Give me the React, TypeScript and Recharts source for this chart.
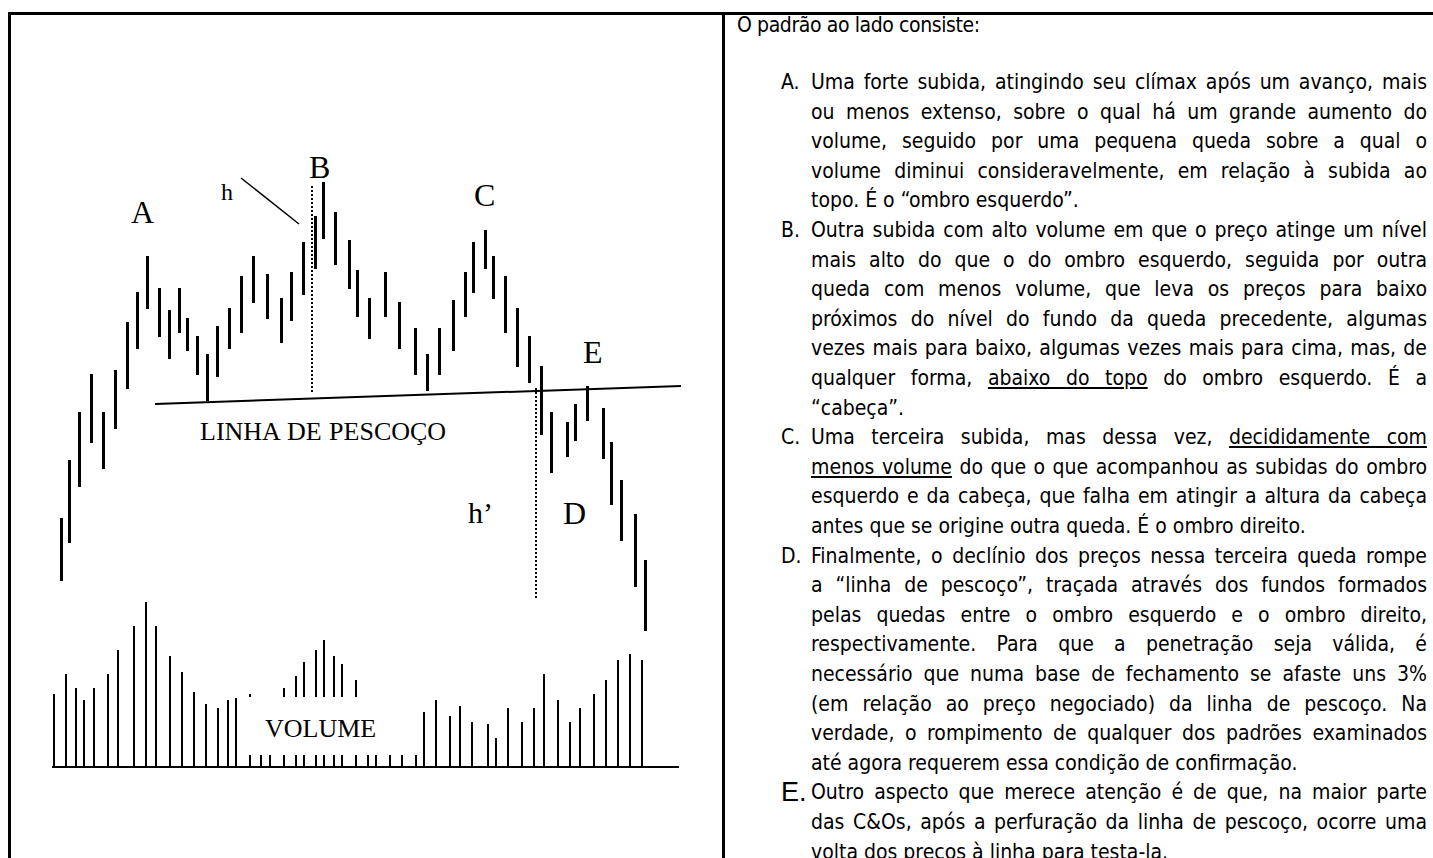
import React from "react"
import { Bar, ComposedChart, ReferenceLine, XAxis, YAxis } from "recharts"

// posição de cada pregão no eixo do tempo e máxima/mínima das barras de preço
const priceDays = [
    2.2, 3.0, 4.0, 5.2, 6.4, 7.6, 8.8, 9.8, 10.8, 12.0, 13.0, 14.0, 14.8,
    15.8, 16.8, 17.8, 19.0, 20.2, 21.4, 22.8, 24.2, 25.2, 26.4, 27.6, 28.4,
    29.6, 31.0, 31.8, 33.0, 34.6, 36.0, 37.6, 38.8, 40.0, 41.4, 42.6, 43.4,
    44.6, 45.4, 46.6, 47.8, 49.0, 50.2, 51.2, 52.8, 53.6, 54.8, 56.4, 57.2,
    58.2, 59.6, 60.6,
]
const priceHigh = [
    24.9, 30.7, 35.5, 39.3, 35.5, 39.7, 44.5, 47.5, 51.1, 47.9, 45.7, 47.9,
    44.9, 43.1, 41.3, 44.1, 45.9, 49.1, 51.1, 49.3, 46.9, 49.5, 52.5, 55.1,
    58.5, 55.5, 52.7, 49.7, 46.9, 49.5, 46.5, 43.9, 41.3, 43.9, 46.7, 49.5,
    52.5, 53.7, 51.1, 49.1, 45.9, 43.1, 40.1, 35.5, 34.5, 36.3, 38.1, 35.9,
    32.5, 28.7, 25.3, 20.7,
]
const priceLow = [
    18.6, 22.4, 28.0, 32.4, 29.8, 33.8, 37.8, 41.8, 45.8, 43.0, 40.8, 43.4,
    41.6, 39.2, 36.6, 39.0, 41.8, 43.4, 46.4, 44.8, 42.4, 44.6, 47.2, 49.8,
    52.8, 50.2, 47.8, 45.0, 42.8, 45.0, 41.8, 39.2, 37.6, 39.2, 41.6, 45.0,
    47.4, 49.8, 46.8, 43.4, 40.0, 38.4, 33.2, 29.4, 31.0, 32.6, 34.6, 30.8,
    26.2, 22.6, 18.0, 13.6,
]

// volume negociado em cada pregão
const volumeDays = [
    1.4, 2.6, 3.6, 4.4, 5.4, 6.8, 7.8, 9.4, 10.6, 11.6, 13.0, 14.2, 15.4, 16.6,
    17.8, 18.8, 19.6, 21.0, 22.1, 23.0, 24.4, 25.6, 26.4, 27.6, 28.4, 29.4,
    30.2, 31.6, 32.8, 33.6, 35.0, 36.2, 37.6, 38.4, 39.6, 41.0, 42.0, 43.2,
    44.8, 45.6, 46.8, 48.2, 49.4, 50.4, 51.8, 53.0, 54.0, 55.4, 56.6, 57.8,
    59.0, 60.2,
]
const volumeValues = [
    7.3, 9.3, 7.9, 6.7, 7.9, 9.3, 11.7, 14.1, 16.5, 14.1, 11.1, 9.5, 7.5, 6.3,
    5.9, 6.7, 6.9, 7.3, 6.4, 7.0, 7.9, 9.1, 10.5, 11.7, 12.7, 11.1, 10.3, 8.7,
    7.0, 6.2, 5.8, 6.1, 5.6, 5.5, 6.7, 5.1, 6.1, 4.5, 4.3, 2.9, 5.9, 4.5, 5.9,
    9.3, 6.7, 4.5, 5.9, 7.3, 8.7, 10.7, 11.3, 10.7,
]

// linha de pescoço e alturas h / h'
const neckline = [
    { x: 11.5, y: 36.3 },
    { x: 64.1, y: 38.1 },
]
const headHeight = [
    { x: 27.2, y: 58.1 },
    { x: 27.2, y: 37.4 },
]
const targetHeight = [
    { x: 49.6, y: 37.9 },
    { x: 49.6, y: 16.9 },
]
const hPointer = [
    { x: 20.1, y: 58.9 },
    { x: 25.9, y: 54.3 },
]
const volumeBase = [
    { x: 1.2, y: 0 },
    { x: 63.9, y: 0 },
]

// trechos entre _ _ são sublinhados
const intro = "O padrão ao lado consiste:"
const paragraphs = [
    {
        label: "A.",
        lines: [
            "Uma forte subida, atingindo seu clímax após um avanço, mais",
            "ou menos extenso, sobre o qual há um grande aumento do",
            "volume, seguido por uma pequena queda sobre a qual o",
            "volume diminui consideravelmente, em relação à subida ao",
            "topo. É o “ombro esquerdo”.",
        ],
    },
    {
        label: "B.",
        lines: [
            "Outra subida com alto volume em que o preço atinge um nível",
            "mais alto do que o do ombro esquerdo, seguida por outra",
            "queda com menos volume, que leva os preços para baixo",
            "próximos do nível do fundo da queda precedente, algumas",
            "vezes mais para baixo, algumas vezes mais para cima, mas, de",
            "qualquer forma, _abaixo do topo_ do ombro esquerdo. É a",
            "“cabeça”.",
        ],
    },
    {
        label: "C.",
        lines: [
            "Uma terceira subida, mas dessa vez, _decididamente com_",
            "_menos volume_ do que o que acompanhou as subidas do ombro",
            "esquerdo e da cabeça, que falha em atingir a altura da cabeça",
            "antes que se origine outra queda. É o ombro direito.",
        ],
    },
    {
        label: "D.",
        lines: [
            "Finalmente, o declínio dos preços nessa terceira queda rompe",
            "a “linha de pescoço”, traçada através dos fundos formados",
            "pelas quedas entre o ombro esquerdo e o ombro direito,",
            "respectivamente. Para que a penetração seja válida, é",
            "necessário que numa base de fechamento se afaste uns 3%",
            "(em relação ao preço negociado) da linha de pescoço. Na",
            "verdade, o rompimento de qualquer dos padrões examinados",
            "até agora requerem essa condição de confirmação.",
        ],
    },
    {
        label: "E.",
        lines: [
            "Outro aspecto que merece atenção é de que, na maior parte",
            "das C&Os, após a perfuração da linha de pescoço, ocorre uma",
            "volta dos preços à linha para testa-la.",
        ],
    },
]

const priceData = priceDays.map((t, i) => ({
    t,
    range: [priceLow[i], priceHigh[i]],
}))
const volumeData = volumeDays.map((t, i) => ({ t, vol: volumeValues[i] }))

const chartMargin = { top: 20, right: 20, bottom: 20, left: 20 }
const serif = "'Liberation Serif', 'Times New Roman', serif"
const narrow =
    "'Liberation Sans Narrow', 'Arial Narrow', 'DejaVu Sans Condensed', 'Liberation Sans', sans-serif"

const withUnderline = (text: string) =>
    text.split("_").map((part, i) =>
        i % 2 === 1 ? (
            <span key={i} style={{ textDecoration: "underline" }}>
                {part}
            </span>
        ) : (
            <React.Fragment key={i}>{part}</React.Fragment>
        )
    )

const Tag = ({
    text,
    left,
    top,
    size,
    box,
    spacing = 0,
}: {
    text: string
    left: number
    top: number
    size: number
    box?: { x: number; y: number; w: number; h: number }
    spacing?: number
}) => (
    <>
        {box && (
            <div
                style={{
                    position: "absolute",
                    left: box.x,
                    top: box.y,
                    width: box.w,
                    height: box.h,
                    background: "#fff",
                }}
            />
        )}
        <div
            style={{
                position: "absolute",
                left,
                top,
                fontFamily: serif,
                fontSize: size,
                lineHeight: 1,
                whiteSpace: "pre",
                wordSpacing: spacing,
            }}
        >
            {text}
        </div>
    </>
)

const App = () => {
    const lineGap = 29.6
    const firstRow = 82
    let row = 0

    return (
        <div
            style={{
                position: "absolute",
                left: 0,
                top: 0,
                width: 1433,
                height: 858,
                overflow: "hidden",
                background: "#fff",
            }}
        >
            {/* moldura */}
            <div style={{ position: "absolute", left: 8, top: 12, width: 1425, height: 3, background: "#000" }} />
            <div style={{ position: "absolute", left: 8, top: 12, width: 3, height: 846, background: "#000" }} />
            <div style={{ position: "absolute", left: 722, top: 12, width: 3, height: 846, background: "#000" }} />

            <div style={{ position: "absolute", left: 20, top: 147 }}>
                <ComposedChart width={700} height={640} data={volumeData} margin={chartMargin}>
                    <XAxis type="number" dataKey="t" domain={[0, 66]} hide allowDataOverflow />
                    <YAxis type="number" domain={[0, 60]} hide allowDataOverflow />
                    <Bar dataKey="vol" fill="#000" barSize={2} isAnimationActive={false} />
                    <ReferenceLine segment={volumeBase} stroke="#000" strokeWidth={2} />
                </ComposedChart>
            </div>

            <div style={{ position: "absolute", left: 20, top: 147 }}>
                <ComposedChart width={700} height={640} data={priceData} margin={chartMargin}>
                    <XAxis type="number" dataKey="t" domain={[0, 66]} hide allowDataOverflow />
                    <YAxis type="number" domain={[0, 60]} hide allowDataOverflow />
                    <Bar dataKey="range" fill="#000" barSize={3} isAnimationActive={false} />
                    <ReferenceLine segment={neckline} stroke="#000" strokeWidth={2} />
                    <ReferenceLine segment={headHeight} stroke="#000" strokeWidth={2} strokeDasharray="2 2" />
                    <ReferenceLine segment={targetHeight} stroke="#000" strokeWidth={2} strokeDasharray="2 2" />
                    <ReferenceLine segment={hPointer} stroke="#000" strokeWidth={1.5} />
                </ComposedChart>
            </div>

            <Tag text="A" left={131} top={196} size={32} />
            <Tag text="B" left={309} top={151} size={32} />
            <Tag text="C" left={474} top={179} size={32} />
            <Tag text="E" left={583} top={336} size={32} />
            <Tag text="h" left={221} top={180} size={24} />
            <Tag
                text="LINHA DE PESCOÇO"
                left={200}
                top={419}
                size={26}
                spacing={1}
                box={{ x: 180, y: 410, w: 295, h: 50 }}
            />
            <Tag text="h’" left={468} top={498} size={30} box={{ x: 446, y: 484, w: 79, h: 63 }} />
            <Tag text="D" left={563} top={497} size={32} box={{ x: 540, y: 482, w: 63, h: 55 }} />
            <Tag text="VOLUME" left={265} top={716} size={26} box={{ x: 244, y: 697, w: 173, h: 58 }} />

            {/* texto explicativo */}
            <div
                style={{
                    position: "absolute",
                    left: 737,
                    top: 10,
                    fontFamily: narrow,
                    fontStretch: "condensed",
                    fontSize: 21,
                    lineHeight: "30px",
                    letterSpacing: -0.4,
                }}
            >
                {intro}
            </div>
            {paragraphs.map((p) =>
                p.lines.map((line, i) => {
                    const y = firstRow + lineGap * row++
                    const last = i === p.lines.length - 1
                    const bigLabel = p.label === "E."
                    return (
                        <React.Fragment key={line}>
                            {i === 0 && (
                                <div
                                    style={{
                                        position: "absolute",
                                        left: 781,
                                        top: y - 15,
                                        lineHeight: "30px",
                                        fontFamily: bigLabel ? "'Liberation Sans', sans-serif" : narrow,
                                        fontStretch: bigLabel ? "normal" : "condensed",
                                        fontSize: bigLabel ? 27 : 21,
                                    }}
                                >
                                    {p.label}
                                </div>
                            )}
                            <div
                                style={{
                                    position: "absolute",
                                    left: 811,
                                    top: y - 15,
                                    width: 616,
                                    lineHeight: "30px",
                                    fontFamily: narrow,
                                    fontStretch: "condensed",
                                    fontSize: 21,
                                    textAlign: "justify",
                                    textAlignLast: last ? "left" : "justify",
                                }}
                            >
                                {withUnderline(line)}
                            </div>
                        </React.Fragment>
                    )
                })
            )}
        </div>
    )
}

export default App
